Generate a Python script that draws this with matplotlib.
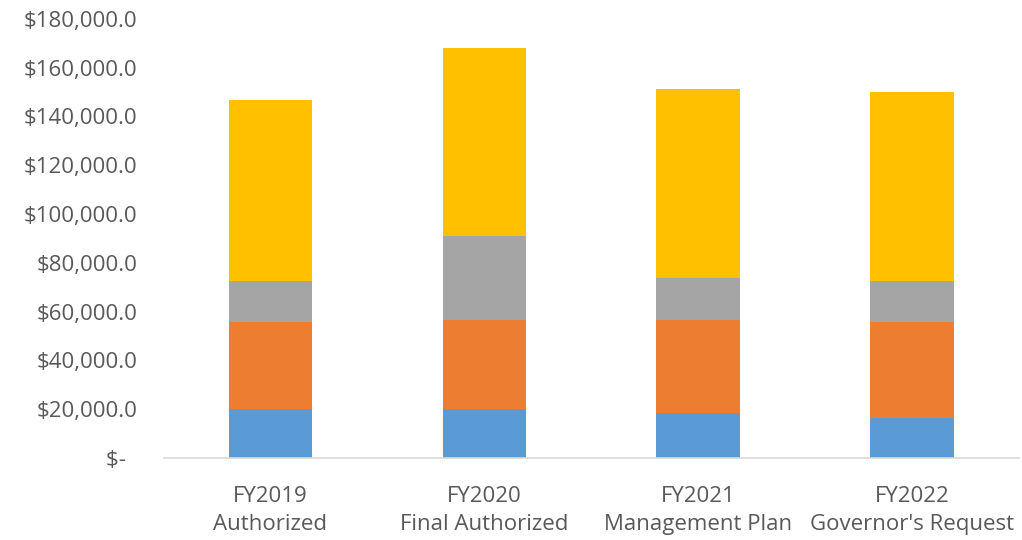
import numpy as np
import matplotlib.pyplot as plt
from matplotlib.ticker import FuncFormatter

# categories (two-line labels as in the source)
categories = ["FY2019\nAuthorized", "FY2020\nFinal Authorized",
              "FY2021\nManagement Plan", "FY2022\nGovernor's Request"]

# stacked segments, bottom to top
blue_vals = [20100, 20100, 18400, 16400]
orange_vals = [35600, 36500, 38200, 39300]
gray_vals = [16800, 34400, 17200, 16800]
gold_vals = [74200, 77000, 77400, 77500]

series = [blue_vals, orange_vals, gray_vals, gold_vals]
colors = ["#5B9BD5", "#ED7D31", "#A5A5A5", "#FFC000"]

plt.rcParams['font.family'] = ['Open Sans', 'DejaVu Sans']

fig = plt.figure(figsize=(10.22, 5.4), dpi=100)
ax = fig.add_axes([0.160, 0.152, 0.837, 0.813])

x = np.arange(len(categories))
bottom = np.zeros(len(categories))
for vals, c in zip(series, colors):
    ax.bar(x, vals, bottom=bottom, width=0.39, color=c, zorder=2)
    bottom += np.array(vals)

ax.set_xlim(-0.5, len(categories) - 0.5)
ax.set_ylim(0, 180000)
ax.set_yticks(np.arange(0, 180001, 20000))


def money(v, pos):
    if v == 0:
        return "$-  "
    return "${:,.1f}".format(v)


ax.yaxis.set_major_formatter(FuncFormatter(money))
ax.set_xticks(x)
ax.set_xticklabels(categories, linespacing=1.45)

for s in ["top", "right", "left"]:
    ax.spines[s].set_visible(False)
ax.spines["bottom"].set_color("#D9D9D9")
ax.spines["bottom"].set_linewidth(1.2)

ax.tick_params(axis="both", length=0, labelsize=16, colors="#595959")
ax.tick_params(axis="y", pad=19)
ax.tick_params(axis="x", pad=20)

fig.savefig("out.png", dpi=100)
